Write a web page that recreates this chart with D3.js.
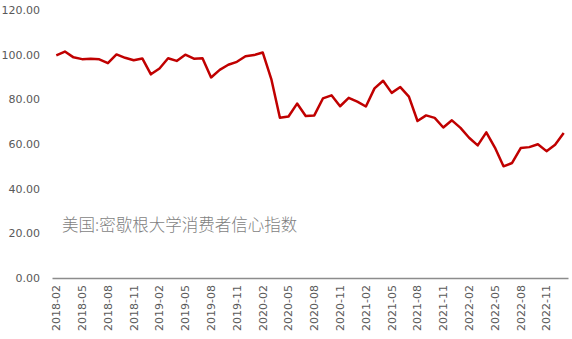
<!DOCTYPE html>
<html>
<head>
<meta charset="utf-8">
<script src="https://cdn.jsdelivr.net/npm/d3@7"></script>
<style>
  html, body { margin: 0; padding: 0; background: #fff; }
  svg { display: block; }
</style>
</head>
<body>
<svg id="chart" width="572" height="339"></svg>
<script>
  // months 2018-02 .. 2023-01
  const months = [];
  for (let yr = 2018; yr <= 2023; yr++) {
    for (let m = 1; m <= 12; m++) {
      if ((yr === 2018 && m < 2) || (yr === 2023 && m > 1)) continue;
      months.push(yr + '-' + String(m).padStart(2, '0'));
    }
  }

  const sentiment = [
    99.7, 101.4, 98.8, 98.0, 98.2, 97.9, 96.2, 100.1, 98.6, 97.5, 98.3,
    91.2, 93.8, 98.4, 97.2, 100.0, 98.2, 98.4, 89.8, 93.2, 95.5, 96.8, 99.3,
    99.8, 101.0, 89.1, 71.8, 72.3, 78.1, 72.5, 72.8, 80.4, 81.8, 76.9, 80.7,
    79.0, 76.8, 84.9, 88.3, 82.9, 85.5, 81.2, 70.3, 72.8, 71.7, 67.4, 70.6,
    67.2, 62.8, 59.4, 65.2, 58.4, 50.0, 51.5, 58.2, 58.6, 59.9, 56.8, 59.7,
    64.9
  ];

  const yTicks = [0, 20, 40, 60, 80, 100, 120];
  const xTickLabels = months.filter((d, i) => i % 3 === 0);
  const seriesName = '美国:密歇根大学消费者信心指数';

  const svg = d3.select('#chart');
  const plotLeft = 52, plotRight = 568, plotTop = 10, plotBottom = 278;

  const x = d3.scaleBand().domain(months).range([plotLeft, plotRight]);
  const y = d3.scaleLinear().domain([0, 120]).range([plotBottom, plotTop]);

  // y labels
  svg.append('g')
    .selectAll('text')
    .data(yTicks)
    .enter().append('text')
    .attr('x', 40)
    .attr('y', d => y(d))
    .attr('dy', '0.35em')
    .attr('text-anchor', 'end')
    .attr('font-family', 'DejaVu Sans, Verdana, sans-serif')
    .attr('font-size', '11px')
    .attr('fill', '#595959')
    .text(d => d.toFixed(2));

  // x axis
  const xAxis = d3.axisBottom(x).tickValues(xTickLabels).tickSize(0).tickPadding(0);
  const gx = svg.append('g').attr('transform', `translate(0,${plotBottom})`).call(xAxis);
  gx.select('.domain').attr('stroke', '#8c8c8c').attr('stroke-width', 1.5);
  gx.selectAll('text')
    .attr('transform', 'rotate(-90)')
    .attr('x', -7)
    .attr('y', 0)
    .attr('dy', '0.35em')
    .attr('text-anchor', 'end')
    .attr('font-family', 'DejaVu Sans, Verdana, sans-serif')
    .attr('font-size', '11px')
    .attr('fill', '#595959');

  const line = d3.line()
    .x((d, i) => x(months[i]) + x.bandwidth() / 2)
    .y(d => y(d));

  svg.append('path')
    .datum(sentiment)
    .attr('d', line)
    .attr('fill', 'none')
    .attr('stroke', '#c00000')
    .attr('stroke-width', 2.5)
    .attr('stroke-linejoin', 'round');

  svg.append('text')
    .attr('x', 62)
    .attr('y', 225)
    .attr('dy', '0.35em')
    .attr('font-family', 'Noto Sans CJK SC, sans-serif')
    .attr('font-weight', 300)
    .attr('font-size', '16.5px')
    .attr('fill', '#7f7f7f')
    .text(seriesName);
</script>
</body>
</html>
